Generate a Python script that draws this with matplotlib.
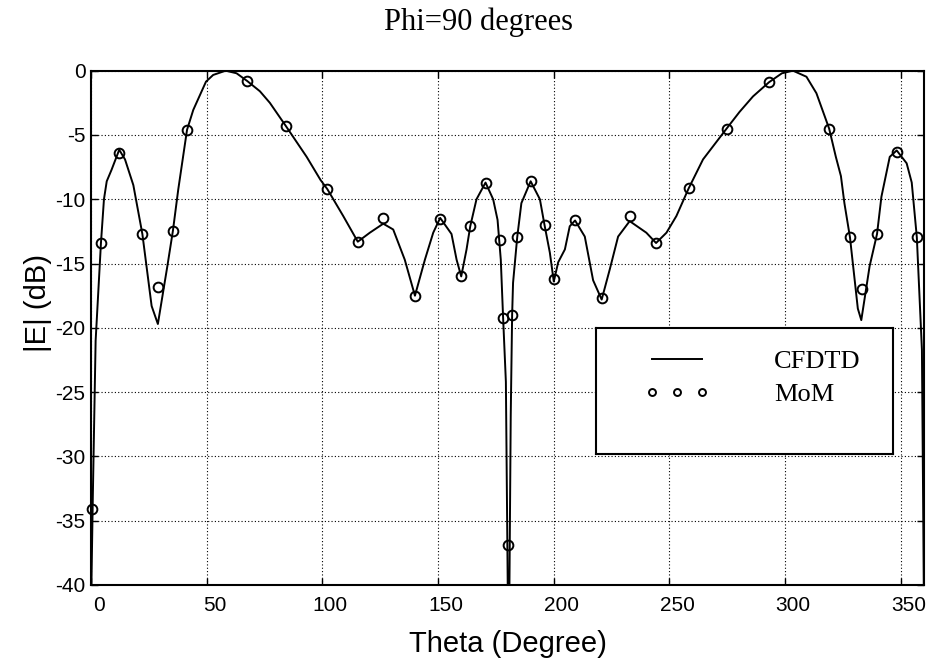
import matplotlib
matplotlib.use('Agg')
import matplotlib.pyplot as plt
import matplotlib.transforms as mtransforms
from matplotlib.lines import Line2D

# CFDTD curve (theta in degrees, |E| in dB)
cfdtd_theta = [0, 0.8, 2.0, 4.3, 5.6, 6.8, 8.9, 12.2, 14.7, 18.3, 22.2, 26.2, 28.9,
               33.0, 35.4, 37.7, 41.5, 44.2, 49.7, 52.8, 58.2, 62.9, 67.5, 73, 77.3,
               84.2, 93.2, 99.2, 102.1, 109, 115.3, 120.5, 126.3, 130.6, 135.6, 140,
               144.3, 147.9, 150.9, 155.8, 158, 160, 162.3, 163.9, 166.6, 170.5, 173.8,
               175.7, 177.1, 178.1, 179.3, 180.5, 181.4, 182, 182.4, 184.2, 186, 190,
               194, 196, 198.3, 200, 201.9, 204.8, 206.9, 209.2, 213.4, 217, 220.7,
               224.2, 227.8, 232.8, 240, 244.2, 248.7, 253, 258.3, 264.5, 274.7, 280.3,
               286.1, 293, 298.6, 303.4, 309.2, 313.5, 319, 321.9, 324.1, 325.6, 328,
               331.4, 332.9, 336.5, 339.7, 341.6, 345.2, 348.2, 352.5, 354.7, 356.9,
               359.1, 360]
cfdtd_db = [-42, -33, -21, -13.4, -10.0, -8.6, -7.7, -6.15, -6.9, -8.9, -12.7, -18.3, -19.7,
            -15.2, -12.45, -9.25, -4.6, -3.05, -0.85, -0.33, 0, -0.2, -0.8, -1.6, -2.5,
            -4.3, -6.7, -8.5, -9.2, -11.3, -13.3, -12.6, -11.9, -12.35, -14.7, -17.5,
            -14.7, -12.6, -11.45, -12.7, -14.7, -16.0, -13.9, -12.1, -10.0, -8.7, -10.0,
            -11.6, -14.7, -19.2, -24.2, -48, -26.8, -19.0, -16.5, -12.95, -10.3, -8.6,
            -10.0, -12.0, -14.15, -16.4, -14.9, -13.9, -12.1, -11.65, -12.9, -16.3, -17.8,
            -15.45, -12.9, -11.7, -12.6, -13.4, -12.6, -11.3, -9.15, -6.9, -4.5, -3.2,
            -2.0, -0.9, -0.2, 0, -0.47, -1.75, -4.5, -6.7, -8.2, -10.3, -12.95,
            -18.5, -19.4, -15.2, -12.7, -9.8, -6.7, -6.2, -7.2, -8.7, -12.95,
            -21.7, -42]

# MoM samples
mom_theta = [0.5, 4.3, 12.2, 22.2, 28.9, 35.4, 41.5, 67.5, 84.2, 102.1, 115.3, 126, 140,
             150.9, 160, 163.9, 170.5, 176.7, 178.1, 180.4, 182, 184.2, 190, 196, 200,
             209.2, 220.7, 233.1, 244.2, 258.3, 274.7, 293, 319, 328, 333.1, 339.7,
             348.2, 356.9]
mom_db = [-34.1, -13.4, -6.4, -12.7, -16.8, -12.45, -4.6, -0.8, -4.3, -9.2, -13.3, -11.45,
          -17.5, -11.5, -15.95, -12.1, -8.7, -13.15, -19.2, -36.9, -19.0, -12.95, -8.6,
          -12.0, -16.2, -11.65, -17.7, -11.3, -13.4, -9.15, -4.5, -0.9, -4.5, -12.95,
          -16.95, -12.7, -6.3, -12.95]

xticks = list(range(0, 351, 50))
yticks = list(range(-40, 1, 5))

sans = 'Liberation Sans'
serif = 'Liberation Serif'
plt.rcParams['axes.unicode_minus'] = False

fig = plt.figure(figsize=(9.26, 6.64), dpi=100)
ax = fig.add_axes([91 / 926, 79 / 664, 833 / 926, 514.3 / 664])

ax.plot(cfdtd_theta, cfdtd_db, color='k', lw=1.4, zorder=3)
ax.plot(mom_theta, mom_db, ls='none', marker='o', ms=7, mfc='none', mec='k',
        mew=1.4, zorder=4, clip_on=False)

ax.set_xlim(0, 360)
ax.set_ylim(-40, 0)
ax.set_xticks(xticks)
ax.set_yticks(yticks)
ax.grid(True, color='k', linestyle=(0, (1, 2)), linewidth=0.8)
ax.set_axisbelow(True)

for sp in ax.spines.values():
    sp.set_linewidth(1.5)
ax.tick_params(direction='in', top=True, right=True, length=5, width=1,
               labelsize=15)
ax.tick_params(axis='x', pad=8)
ax.tick_params(axis='y', pad=4)
for lab in ax.get_xticklabels() + ax.get_yticklabels():
    lab.set_family(sans)

# tick labels sit a bit to the right of their ticks in the original
shift = mtransforms.ScaledTranslation(8 / 100, 0, fig.dpi_scale_trans)
for lab in ax.get_xticklabels():
    lab.set_transform(lab.get_transform() + shift)

ax.set_xlabel('Theta (Degree)', family=sans, fontsize=21, va='center')
ax.xaxis.set_label_coords(0.5, -0.115)
ax.set_ylabel('|E| (dB)', family=sans, fontsize=21, va='center')
ax.yaxis.set_label_coords(-0.064, 0.548)

fig.text(478.5 / 926, 1 - 22 / 664, 'Phi=90 degrees', family=serif, fontsize=22,
         ha='center', va='center')

# legend box
lax = fig.add_axes([595.7 / 926, 210 / 664, 297 / 926, 125.7 / 664])
lax.set_xticks([])
lax.set_yticks([])
lax.set_facecolor('white')
for sp in lax.spines.values():
    sp.set_linewidth(1.5)
handles = [Line2D([], [], color='k', lw=1.4),
           Line2D([], [], ls='none', marker='o', ms=5, mfc='none', mec='k', mew=1.4)]
lax.legend(handles, ['CFDTD', 'MoM'], loc='upper left',
           bbox_to_anchor=(48 / 297, 1 - 21 / 125.7), borderaxespad=0, borderpad=0,
           frameon=False, handlelength=2.5, handletextpad=2.45, labelspacing=0.38,
           numpoints=3, prop={'family': serif, 'size': 19})

fig.savefig('out.png', dpi=100)
